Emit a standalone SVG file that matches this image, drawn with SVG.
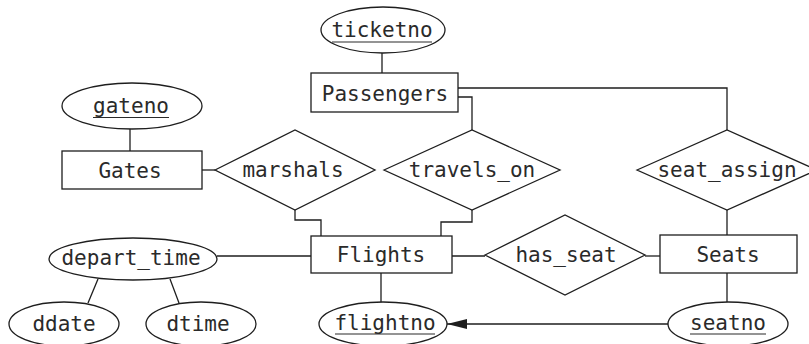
<svg xmlns="http://www.w3.org/2000/svg" width="809" height="344" viewBox="0 0 809 344">
<style>
.s{fill:#fff;stroke:#1e1e1e;stroke-width:1.3}
.c{fill:none;stroke:#1e1e1e;stroke-width:1.3}
.u{stroke:#2a2a2a;stroke-width:1.2}
text{font-family:"DejaVu Sans Mono","Liberation Mono",monospace;font-size:21px;fill:#2a2a2a;text-anchor:middle}
</style>
<defs>
<marker id="ah" markerWidth="20" markerHeight="10" refX="20" refY="5" orient="auto" markerUnits="userSpaceOnUse">
<path d="M0,0 L20,5 L0,10 Z" fill="#1e1e1e"/>
</marker>
</defs>
<rect width="809" height="344" fill="#fff"/>
<g id="connectors">
<line class="c" x1="382" y1="53" x2="382" y2="73"/>
<line class="c" x1="130" y1="129" x2="130" y2="151"/>
<line class="c" x1="202" y1="170" x2="215" y2="170"/>
<polyline class="c" points="295,210 295,220 321,220 321,236"/>
<polyline class="c" points="458,97 472,97 472,130"/>
<polyline class="c" points="472,210 472,222 441,222 441,236"/>
<polyline class="c" points="458,88 727,88 727,130"/>
<line class="c" x1="727" y1="210" x2="727" y2="235"/>
<line class="c" x1="217" y1="256" x2="311" y2="256"/>
<line class="c" x1="98" y1="279" x2="88" y2="303"/>
<line class="c" x1="170" y1="279" x2="179" y2="303"/>
<line class="c" x1="381" y1="273" x2="381" y2="302"/>
<line class="c" x1="452" y1="256" x2="485" y2="256"/>
<line class="c" x1="645" y1="256" x2="660" y2="256"/>
<line class="c" x1="727" y1="273" x2="727" y2="302"/>
<line class="c" x1="668" y1="324" x2="447" y2="324" marker-end="url(#ah)"/>
</g>
<g id="ticketno"><ellipse class="s" cx="383" cy="30" rx="62" ry="23"/><text x="382" y="37">ticketno</text><line class="u" x1="332" y1="42" x2="432" y2="42"/></g>
<g id="Passengers"><rect class="s" x="311" y="73" width="147" height="39"/><text x="385" y="101">Passengers</text></g>
<g id="gateno"><ellipse class="s" cx="132" cy="106" rx="70" ry="23"/><text x="131" y="113">gateno</text><line class="u" x1="93" y1="117.5" x2="169" y2="117.5"/></g>
<g id="Gates"><rect class="s" x="62" y="151" width="140" height="38"/><text x="130" y="178">Gates</text></g>
<g id="marshals"><polygon class="s" points="215,170 295,130 375,170 295,210"/><text x="293" y="177">marshals</text></g>
<g id="travels_on"><polygon class="s" points="384,170 472,130 560,170 472,210"/><text x="472" y="177">travels_on</text></g>
<g id="seat_assign"><polygon class="s" points="637,170 727,130 817,170 727,210"/><text x="727" y="177">seat_assign</text></g>
<g id="Flights"><rect class="s" x="311" y="236" width="141" height="37"/><text x="381" y="262">Flights</text></g>
<g id="has_seat"><polygon class="s" points="485,255 565,215 645,255 565,295"/><text x="566" y="262">has_seat</text></g>
<g id="Seats"><rect class="s" x="660" y="235" width="137" height="38"/><text x="728" y="262">Seats</text></g>
<g id="depart_time"><ellipse class="s" cx="133" cy="259" rx="84" ry="21"/><text x="131" y="265">depart_time</text></g>
<g id="ddate"><ellipse class="s" cx="64" cy="324" rx="55" ry="22"/><text x="64" y="331">ddate</text></g>
<g id="dtime"><ellipse class="s" cx="201" cy="324" rx="55" ry="22"/><text x="198" y="331">dtime</text></g>
<g id="flightno"><ellipse class="s" cx="383" cy="324" rx="64" ry="22"/><text x="385" y="330">flightno</text><line class="u" x1="335" y1="334" x2="435" y2="334"/></g>
<g id="seatno"><ellipse class="s" cx="728" cy="324" rx="60" ry="22"/><text x="728" y="330">seatno</text><line class="u" x1="690" y1="334" x2="766" y2="334"/></g>
</svg>
